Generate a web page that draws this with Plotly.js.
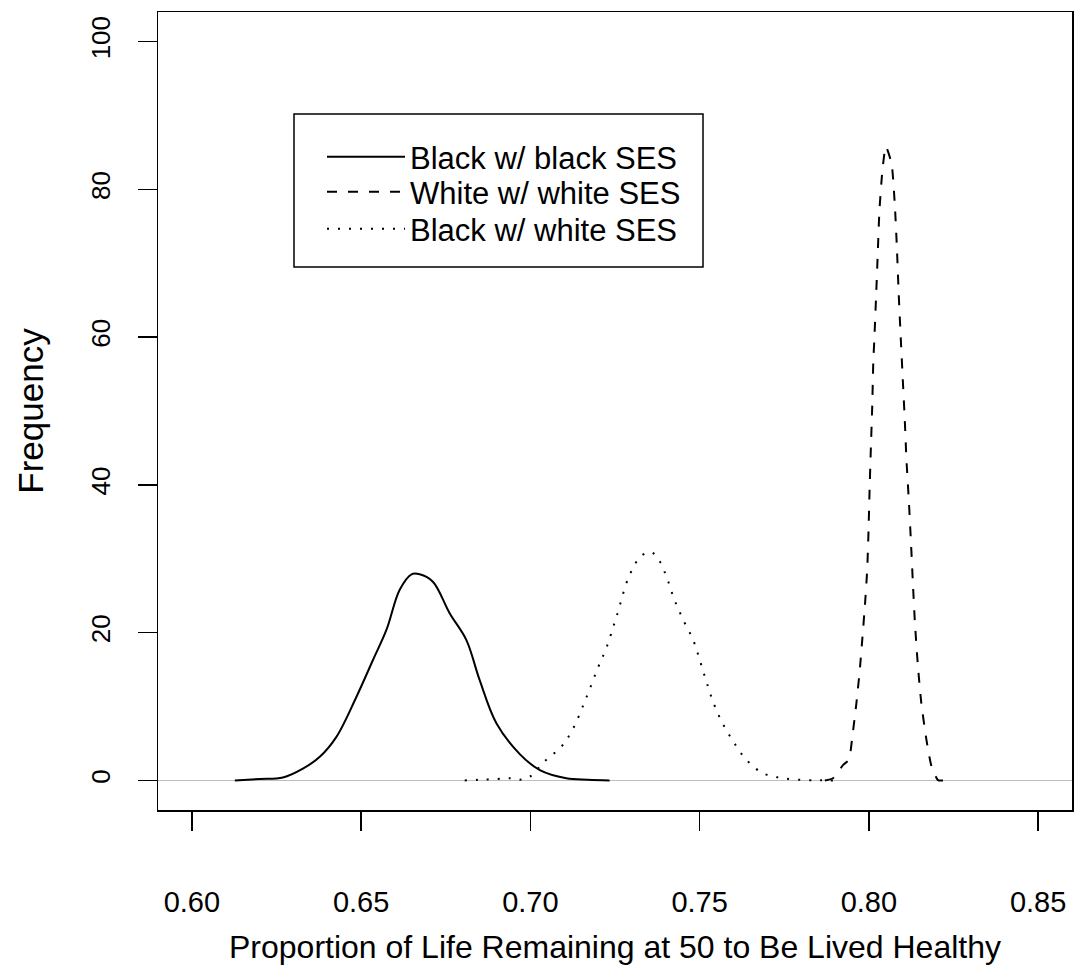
<!DOCTYPE html>
<html>
<head>
<meta charset="utf-8">
<script src="https://cdn.plot.ly/plotly-3.0.1.min.js"></script>
<style>
  html, body { margin: 0; padding: 0; background: #ffffff; }
  #chart { width: 1075px; height: 965px; }
</style>
</head>
<body>
<div id="chart"></div>
<script>
// ---- data ----
const seriesNames = ["Black w/ black SES", "White w/ white SES", "Black w/ white SES"];

const blackBlackX = [0.6127, 0.6200, 0.6269, 0.6328, 0.6378, 0.6427, 0.6486, 0.6535, 0.6575, 0.6614, 0.6649, 0.6673, 0.6712, 0.6762, 0.6811, 0.6850, 0.6900, 0.6968, 0.7028, 0.7106, 0.7170, 0.7234];
const blackBlackY = [0, 0.2, 0.4, 1.6, 3.2, 5.9, 11.3, 16.3, 20.4, 25.8, 27.9, 27.9, 26.9, 22.6, 19.0, 13.6, 7.7, 3.6, 1.4, 0.3, 0.1, 0];

const whiteWhiteX = [0.7870, 0.7894, 0.7924, 0.7941, 0.7951, 0.7963, 0.7973, 0.7981, 0.7988, 0.7995, 0.7999, 0.8002, 0.8006, 0.8010, 0.8013, 0.8016, 0.8021, 0.8026, 0.8031, 0.8040, 0.8050, 0.8067, 0.8077, 0.8083, 0.8088, 0.8094, 0.8100, 0.8106, 0.8111, 0.8118, 0.8124, 0.8130, 0.8136, 0.8145, 0.8155, 0.8170, 0.8185, 0.8204, 0.8219];
const whiteWhiteY = [0, 0.3, 2.1, 2.8, 5.9, 10.4, 14.9, 19.4, 23.5, 28.5, 33.9, 39.3, 45.2, 50.8, 56.7, 59.6, 65.2, 71.1, 77.0, 82.6, 85.8, 83.5, 77.6, 71.8, 65.9, 60.0, 54.4, 48.8, 43.4, 37.9, 32.5, 26.7, 21.3, 15.4, 10.4, 5.5, 1.9, 0.05, 0];

const blackWhiteX = [0.6806, 0.6850, 0.6904, 0.6940, 0.6969, 0.6998, 0.7042, 0.7092, 0.7126, 0.7166, 0.7200, 0.7225, 0.7254, 0.7293, 0.7328, 0.7356, 0.7379, 0.7405, 0.7426, 0.7453, 0.7481, 0.7501, 0.7520, 0.7540, 0.7567, 0.7599, 0.7636, 0.7686, 0.7746, 0.7810, 0.7860, 0.7900];
const blackWhiteY = [0, 0.1, 0.2, 0.3, 0.1, 0.5, 2.6, 4.6, 7.0, 11.3, 15.3, 18.0, 22.1, 27.8, 30.4, 30.9, 29.9, 27.2, 24.4, 21.6, 19.0, 16.2, 13.4, 10.6, 7.8, 5.3, 2.9, 1.0, 0.3, 0.05, 0.02, 0];

const xTickVals = [0.60, 0.65, 0.70, 0.75, 0.80, 0.85];
const xTickText = ["0.60", "0.65", "0.70", "0.75", "0.80", "0.85"];
const yTickVals = [0, 20, 40, 60, 80, 100];
const yTickText = ["0", "20", "40", "60", "80", "100"];

const xTitle = "Proportion of Life Remaining at 50 to Be Lived Healthy";
const yTitle = "Frequency";

// ---- chart ----
const FONT = '"Liberation Sans", Arial, Helvetica, sans-serif';

const traces = [
  { x: blackBlackX, y: blackBlackY, name: seriesNames[0], type: "scatter", mode: "lines", legend: "legend",
    line: { color: "#000000", width: 2, dash: "solid", shape: "spline", smoothing: 1.0 } },
  { x: whiteWhiteX, y: whiteWhiteY, name: seriesNames[1], type: "scatter", mode: "lines", legend: "legend2",
    line: { color: "#000000", width: 2, dash: "10px,11px", shape: "spline", smoothing: 0.5 } },
  { x: blackWhiteX, y: blackWhiteY, name: seriesNames[2], type: "scatter", mode: "lines", legend: "legend3",
    line: { color: "#000000", width: 2, dash: "2px,9px", shape: "spline", smoothing: 1.0 } }
];

// plot area in pixels: x 158..1072, y 12..810
const px = v => (v - 158) / 914;
const py = v => (810 - v) / 798;

function legendAt(rowCenterY) {
  return {
    x: px(322), y: py(rowCenterY), xanchor: "left", yanchor: "middle",
    bgcolor: "rgba(0,0,0,0)", borderwidth: 0,
    font: { family: FONT, size: 31, color: "#000000" },
    itemwidth: 78, tracegroupgap: 0
  };
}

const layout = {
  width: 1075,
  height: 965,
  margin: { l: 158, r: 3, t: 12, b: 155, pad: 0 },
  paper_bgcolor: "#ffffff",
  plot_bgcolor: "#ffffff",
  font: { family: FONT, size: 26, color: "#000000" },
  showlegend: true,
  legend: legendAt(157),
  legend2: legendAt(192),
  legend3: legendAt(229),
  xaxis: {
    range: [0.59, 0.86], autorange: false,
    tickmode: "array", tickvals: xTickVals, ticktext: xTickText,
    ticks: "outside", ticklen: 19, tickwidth: 1.5, tickcolor: "#000000",
    ticklabelstandoff: 47,
    tickfont: { family: FONT, size: 29, color: "#000000" },
    showline: true, mirror: true, linecolor: "#000000", linewidth: 1.5,
    showgrid: false, zeroline: false,
    title: { text: xTitle, font: { family: FONT, size: 32, color: "#000000" }, standoff: 25 },
    automargin: false
  },
  yaxis: {
    range: [-4, 104], autorange: false,
    tickmode: "array", tickvals: yTickVals, ticktext: yTickText,
    tickangle: -90,
    ticks: "outside", ticklen: 19, tickwidth: 1.5, tickcolor: "#000000",
    ticklabelstandoff: 17,
    tickfont: { family: FONT, size: 26, color: "#000000" },
    showline: true, mirror: true, linecolor: "#000000", linewidth: 1.5,
    showgrid: false,
    zeroline: true, zerolinecolor: "#bebebe", zerolinewidth: 1.5,
    title: { text: yTitle, font: { family: FONT, size: 35, color: "#000000" }, standoff: 32 },
    automargin: false
  },
  shapes: [
    { type: "rect", xref: "paper", yref: "paper",
      x0: px(294), x1: px(703), y0: py(267), y1: py(114),
      line: { color: "#000000", width: 1.5 }, fillcolor: "rgba(0,0,0,0)", layer: "above" }
  ]
};

Plotly.newPlot("chart", traces, layout, { displayModeBar: false, staticPlot: true });
</script>
</body>
</html>
